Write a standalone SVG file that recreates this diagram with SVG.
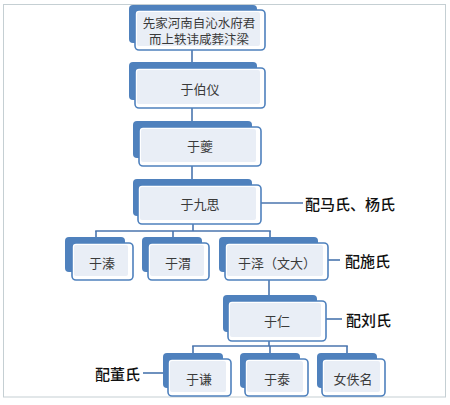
<svg xmlns="http://www.w3.org/2000/svg" width="450" height="405" viewBox="0 0 450 405">
<style>
.back{fill:#4F81BD;}
.front{fill:#FFFFFF;stroke:#4F81BD;stroke-width:1.6;}
.inner{fill:#E9EEF6;}
.t{font-family:"Noto Sans CJK SC","Noto Sans",sans-serif;font-size:13px;fill:#3A3A3A;text-anchor:middle;dominant-baseline:central;}
.t2{font-size:12.5px;}
.lbl{font-family:"Noto Sans CJK SC","Noto Sans",sans-serif;font-size:15px;font-weight:500;fill:#111111;dominant-baseline:central;}
.c line{stroke:#4A75AE;stroke-width:1.6;fill:none;}
</style>
<rect x="0" y="0" width="450" height="405" fill="#FFFFFF"/>
<rect x="3.5" y="4.5" width="442" height="392.5" fill="none" stroke="#C5CFD3" stroke-width="1"/>
<g id="connectors" class="c">
<line x1="192" y1="48" x2="192" y2="64"/>
<line x1="192" y1="106" x2="192" y2="123"/>
<line x1="192" y1="164" x2="192" y2="181"/>
<line x1="193" y1="222" x2="193" y2="231"/>
<line x1="95.2" y1="231" x2="270.8" y2="231"/>
<line x1="96" y1="231" x2="96" y2="239"/>
<line x1="173" y1="231" x2="173" y2="239"/>
<line x1="270" y1="231" x2="270" y2="239"/>
<line x1="261" y1="203" x2="303" y2="203"/>
<line x1="328" y1="260" x2="340" y2="260"/>
<line x1="269" y1="278" x2="269" y2="297"/>
<line x1="326" y1="319" x2="342" y2="319"/>
<line x1="269" y1="339" x2="269" y2="346"/>
<line x1="192.2" y1="346" x2="347.8" y2="346"/>
<line x1="193" y1="346" x2="193" y2="355"/>
<line x1="270" y1="346" x2="270" y2="355"/>
<line x1="347" y1="346" x2="347" y2="355"/>
<line x1="143" y1="373" x2="166" y2="373"/>
</g>
<g id="n1">
<rect class="back" x="129" y="5" width="128" height="38" rx="4"/>
<rect class="front" x="135" y="10" width="130" height="40" rx="4"/>
<rect class="inner" x="137" y="12" width="123" height="34" rx="2"/>
<text class="t t2" x="199" y="22"><tspan x="199" y="22">先家河南自沁水府君</tspan><tspan x="199" y="38">而上轶讳咸葬汴梁</tspan></text>
</g>
<g id="n2">
<rect class="back" x="129" y="62" width="128" height="38" rx="4"/>
<rect class="front" x="135" y="68" width="130" height="40" rx="4"/>
<rect class="inner" x="137" y="70" width="123" height="34" rx="2"/>
<text class="t" x="200" y="88">于伯仪</text>
</g>
<g id="n3">
<rect class="back" x="133" y="121" width="119" height="37" rx="4"/>
<rect class="front" x="139" y="127" width="122" height="39" rx="4"/>
<rect class="inner" x="141" y="129" width="115" height="33" rx="2"/>
<text class="t" x="200" y="145">于夔</text>
</g>
<g id="n4">
<rect class="back" x="133" y="179" width="119" height="37" rx="4"/>
<rect class="front" x="138" y="185" width="123" height="39" rx="4"/>
<rect class="inner" x="140" y="187" width="116" height="33" rx="2"/>
<text class="t" x="200" y="203">于九思</text>
</g>
<g id="n5a">
<rect class="back" x="65" y="237" width="60" height="35" rx="4"/>
<rect class="front" x="72" y="243" width="61" height="37" rx="4"/>
<rect class="inner" x="74" y="245" width="54" height="31" rx="2"/>
<text class="t" x="102" y="262">于溱</text>
</g>
<g id="n5b">
<rect class="back" x="142" y="237" width="60" height="35" rx="4"/>
<rect class="front" x="148" y="243" width="61" height="37" rx="4"/>
<rect class="inner" x="150" y="245" width="54" height="31" rx="2"/>
<text class="t" x="178" y="262">于渭</text>
</g>
<g id="n5c">
<rect class="back" x="219" y="237" width="99" height="35" rx="4"/>
<rect class="front" x="225" y="243" width="103" height="37" rx="4"/>
<rect class="inner" x="227" y="245" width="96" height="31" rx="2"/>
<text class="t" x="277" y="262">于泽（文大）</text>
</g>
<g id="n6">
<rect class="back" x="223" y="295" width="94" height="37" rx="4"/>
<rect class="front" x="228" y="301" width="98" height="40" rx="4"/>
<rect class="inner" x="230" y="303" width="91" height="34" rx="2"/>
<text class="t" x="277" y="320">于仁</text>
</g>
<g id="n7a">
<rect class="back" x="163" y="353" width="60" height="35" rx="4"/>
<rect class="front" x="168" y="359" width="63" height="37" rx="4"/>
<rect class="inner" x="170" y="361" width="56" height="31" rx="2"/>
<text class="t" x="199" y="378">于谦</text>
</g>
<g id="n7b">
<rect class="back" x="240" y="353" width="60" height="35" rx="4"/>
<rect class="front" x="245" y="359" width="63" height="37" rx="4"/>
<rect class="inner" x="247" y="361" width="56" height="31" rx="2"/>
<text class="t" x="277" y="378">于泰</text>
</g>
<g id="n7c">
<rect class="back" x="317" y="353" width="60" height="35" rx="4"/>
<rect class="front" x="322" y="359" width="63" height="37" rx="4"/>
<rect class="inner" x="324" y="361" width="56" height="31" rx="2"/>
<text class="t" x="353" y="378">女佚名</text>
</g>
<g id="labels">
<text class="lbl" x="305" y="203">配马氏、杨氏</text>
<text class="lbl" x="345" y="260">配施氏</text>
<text class="lbl" x="346" y="319">配刘氏</text>
<text class="lbl" x="140" y="373" text-anchor="end">配董氏</text>
</g>
</svg>
